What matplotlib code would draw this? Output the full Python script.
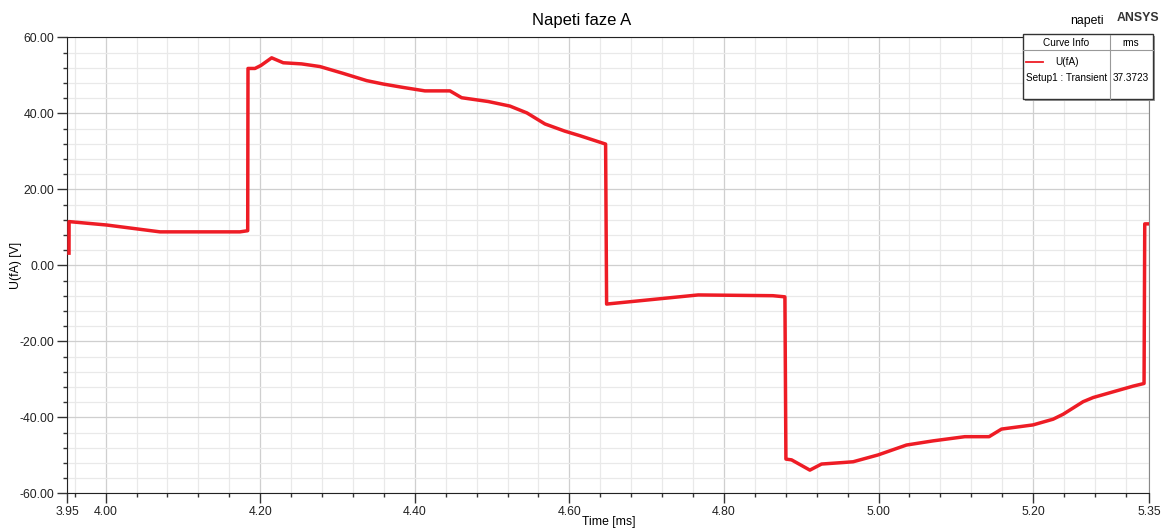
import matplotlib.pyplot as plt
from matplotlib.ticker import MultipleLocator, FixedLocator
from matplotlib.patches import Rectangle

plt.rcParams['font.family'] = ['Liberation Sans', 'DejaVu Sans']

# phase A voltage over one period (time in ms, voltage in V)
time_ms = [3.9526, 3.9527, 4.0014, 4.0703, 4.1738, 4.1838, 4.1842, 4.1932,
           4.2010, 4.2148, 4.2298, 4.2536, 4.2773, 4.3074, 4.3377, 4.3592,
           4.3851, 4.4131, 4.4455, 4.4606, 4.4950, 4.5231, 4.5451, 4.5684,
           4.5942, 4.6137, 4.6469, 4.6482, 4.7667, 4.8633, 4.8789, 4.8802,
           4.8875, 4.9112, 4.9263, 4.9543, 4.9672, 4.9995, 5.0362, 5.0707,
           5.1117, 5.1431, 5.1592, 5.2000, 5.2259, 5.2389, 5.2647, 5.2777,
           5.3035, 5.3294, 5.3436, 5.3445, 5.3497]
u_fa = [3.2, 11.5, 10.6, 8.8, 8.8, 9.1, 51.8, 51.8,
        52.6, 54.6, 53.3, 53.0, 52.3, 50.5, 48.6, 47.7,
        46.8, 45.9, 45.9, 44.1, 43.1, 41.9, 40.1, 37.2,
        35.3, 34.1, 31.9, -10.2, -7.8, -8.0, -8.3, -51.0,
        -51.2, -53.9, -52.3, -51.9, -51.7, -49.9, -47.3, -46.2,
        -45.1, -45.1, -43.1, -42.0, -40.5, -39.2, -35.9, -34.8,
        -33.3, -31.8, -31.1, 10.9, 10.9]

x_major = [3.95, 4.00, 4.20, 4.40, 4.60, 4.80, 5.00, 5.20, 5.35]
x_labels = ['3.95', '4.00', '4.20', '4.40', '4.60', '4.80', '5.00', '5.20', '5.35']
x_minor = [3.96 + 0.04 * i for i in range(35)]

rms_value = 37.3723
red = '#ee1c25'

W, H = 1162, 529


def px(x, y):
    return x / W, 1 - y / H


fig = plt.figure(figsize=(W / 100, H / 100), dpi=100)
ax = fig.add_axes([67 / W, 1 - 493.3 / H, (1149 - 67) / W, (493.3 - 37.3) / H])

ax.plot(time_ms, u_fa, color=red, lw=2.5, solid_joinstyle='round', zorder=3)

ax.set_xlim(3.95, 5.35)
ax.set_ylim(-60, 60)
ax.xaxis.set_major_locator(FixedLocator(x_major))
ax.set_xticklabels(x_labels)
ax.xaxis.set_minor_locator(FixedLocator(x_minor))
ax.yaxis.set_major_locator(MultipleLocator(20))
ax.yaxis.set_minor_locator(MultipleLocator(4))
ax.yaxis.set_major_formatter(lambda v, p: '%.2f' % v)

ax.grid(which='major', color='#cfcfcf', lw=0.9)
ax.grid(which='minor', color='#e9e9e9', lw=0.9)
ax.set_axisbelow(True)
ax.tick_params(which='major', length=7, width=1, color='#333333', labelsize=8.8,
               labelcolor='#222222', pad=2)
ax.tick_params(which='minor', length=3, width=1, color='#333333')
for side in ['left', 'bottom', 'top']:
    ax.spines[side].set_color('#222222')
ax.spines['right'].set_color('#888888')

# axis titles placed by hand so they stay inside the canvas
fig.text(*px(609, 522), 'Time [ms]', ha='center', va='center', fontsize=8.8)
fig.text(*px(16, 265), 'U(fA) [V]', ha='center', va='center', fontsize=8.8, rotation=90)
fig.text(*px(582, 21), 'Napeti faze A', ha='center', va='center', fontsize=12)
fig.text(*px(1087, 21), 'napeti', ha='center', va='center', fontsize=8.8)
fig.text(*px(1138, 18), 'ANSYS', ha='center', va='center', fontsize=8.8,
         fontweight='bold', color='#333333')

# curve info box in the top right corner
bx0, by0, bx1, by1 = 1022.5, 34.5, 1152.5, 98.5
shadow = Rectangle(px(bx0 + 2, by1 + 2), (bx1 - bx0) / W, (by1 - by0) / H,
                   transform=fig.transFigure, facecolor='#9a9a9a', edgecolor='none', zorder=5)
box = Rectangle(px(bx0, by1), (bx1 - bx0) / W, (by1 - by0) / H,
                transform=fig.transFigure, facecolor='white', edgecolor='#333333',
                lw=1, zorder=6)
fig.patches.extend([shadow, box])
fig.add_artist(plt.Line2D([px(bx0, 0)[0], px(bx1, 0)[0]], [px(0, 50)[1]] * 2,
                          transform=fig.transFigure, color='#999999', lw=0.8, zorder=7))
fig.add_artist(plt.Line2D([px(1110, 0)[0]] * 2, [px(0, by0)[1], px(0, by1)[1]],
                          transform=fig.transFigure, color='#999999', lw=0.8, zorder=7))
fig.add_artist(plt.Line2D([px(1026, 0)[0], px(1043, 0)[0]], [px(0, 61.7)[1]] * 2,
                          transform=fig.transFigure, color=red, lw=1.3, zorder=7))
kw = dict(fontsize=7.2, va='center', zorder=8)
fig.text(*px(1066, 43), 'Curve Info', ha='center', **kw)
fig.text(*px(1131, 43), 'rms', ha='center', **kw)
fig.text(*px(1066.7, 62), 'U(fA)', ha='center', **kw)
fig.text(*px(1026, 78), 'Setup1 : Transient', ha='left', **kw)
fig.text(*px(1131, 78), '%.4f' % rms_value, ha='center', **kw)

fig.savefig('out.png', dpi=100)
